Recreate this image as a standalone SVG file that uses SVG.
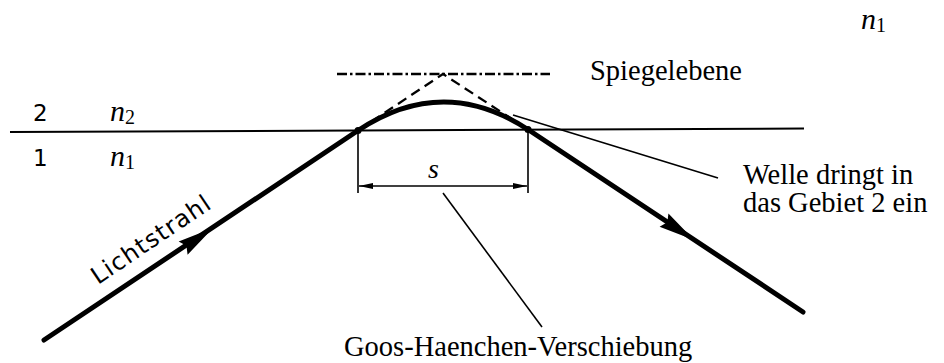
<svg xmlns="http://www.w3.org/2000/svg" width="944" height="363" viewBox="0 0 944 363">
<style>
.serif{font-family:"Liberation Serif","DejaVu Serif","Times New Roman",serif;fill:#000}
.sans{font-family:"DejaVu Sans","Liberation Sans",sans-serif;fill:#000}
.lbl{font-size:28.5px}
.ital{font-style:italic;font-size:30px}
.sub{font-style:normal;font-size:20px}
.ray{fill:none;stroke:#000;stroke-width:5;stroke-linecap:round}
.thin{fill:none;stroke:#000;stroke-width:1.6}
</style>
<defs>
<polygon id="ah" points="0,0 -36,-8 -32,0 -36,8" fill="#000"/>
<marker id="dimA" viewBox="0 0 14 6" refX="14" refY="3" markerWidth="14" markerHeight="6" markerUnits="userSpaceOnUse" orient="auto">
<path d="M0,0 L14,3 L0,6 Z" fill="#000"/>
</marker>
</defs>
<rect width="944" height="363" fill="#fff"/>
<g id="interface">
<line x1="10" y1="132" x2="804" y2="128.5" stroke="#000" stroke-width="2"/>
</g>
<g id="connectors">
<path id="ray-in" class="ray" d="M44,340 L358,130.5"/>
<path id="curve" class="ray" d="M358,130.5 Q443,74 528,129.5" stroke-width="4.5"/>
<path id="ray-out" class="ray" d="M528,129.5 L803,312"/>
<use href="#ah" transform="translate(213,228) rotate(-33.9)"/>
<use href="#ah" transform="translate(694,240) rotate(33.6)"/>
<path id="mirror-dashed" d="M358,130.5 L443,74 L528,129.5" fill="none" stroke="#000" stroke-width="2.3" stroke-dasharray="10,6"/>
<line id="mirror-plane" x1="337" y1="74" x2="550" y2="74" stroke="#000" stroke-width="2.3" stroke-dasharray="10,3,2.5,3"/>
<circle cx="358" cy="130.5" r="3.5" fill="#000"/>
<circle cx="528" cy="129.5" r="3.5" fill="#000"/>
<line class="thin" x1="358" y1="130.5" x2="358" y2="193"/>
<line class="thin" x1="528" y1="129.5" x2="528" y2="193"/>
<line class="thin" x1="443" y1="186" x2="359" y2="186" marker-end="url(#dimA)"/>
<line class="thin" x1="443" y1="186" x2="527" y2="186" marker-end="url(#dimA)"/>
<line class="thin" x1="443" y1="193" x2="542" y2="327"/>
<line class="thin" x1="513" y1="115" x2="718" y2="178"/>
</g>
<g id="labels">
<text class="sans" x="33" y="121" font-size="23">2</text>
<text class="serif ital" x="110" y="121">n<tspan class="sub" dy="3">2</tspan></text>
<text class="sans" x="33" y="166" font-size="23">1</text>
<text class="serif ital" x="110" y="166">n<tspan class="sub" dy="3">1</tspan></text>
<text class="serif ital" x="861" y="29">n<tspan class="sub" dy="3">1</tspan></text>
<text class="serif" x="428" y="178" font-size="28" font-style="italic">s</text>
<text class="serif lbl" x="590" y="80">Spiegelebene</text>
<text class="serif lbl" x="743" y="184">Welle dringt in</text>
<text class="serif lbl" x="743" y="212">das Gebiet 2 ein</text>
<text class="serif lbl" x="344" y="356">Goos-Haenchen-Verschiebung</text>
<text class="sans" x="98" y="285" font-size="24" textLength="138" lengthAdjust="spacing" transform="rotate(-34 98 285)">Lichtstrahl</text>
</g>
</svg>
